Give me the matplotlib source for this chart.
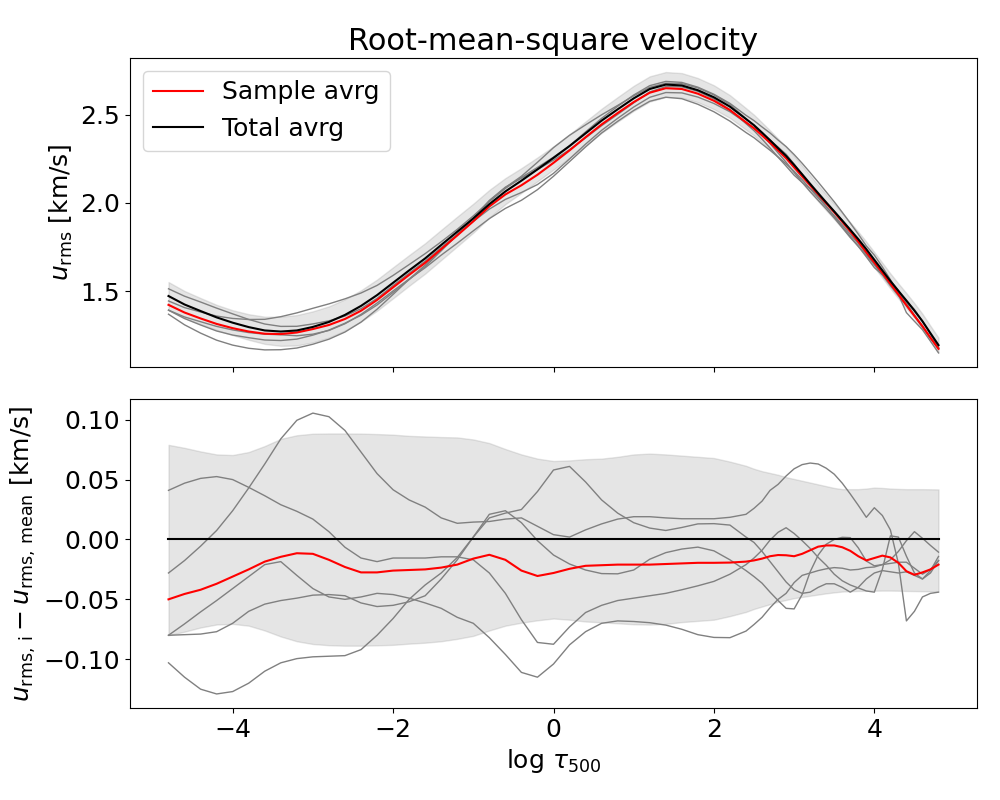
import numpy as np
import matplotlib
matplotlib.use("Agg")
import matplotlib.pyplot as plt

# ------ datos: log tau_500 y velocidades
log_tau = [-4.8, -4.6, -4.4, -4.2, -4.0, -3.8, -3.6, -3.4, -3.2, -3.0,
           -2.8, -2.6, -2.4, -2.2, -2.0, -1.8, -1.6, -1.4, -1.2, -1.0,
           -0.8, -0.6, -0.4, -0.2, 0.0, 0.2, 0.4, 0.6, 0.8, 1.0,
           1.2, 1.4, 1.6, 1.8, 2.0, 2.2, 2.4, 2.5, 2.6, 2.7,
           2.8, 2.9, 3.0, 3.1, 3.2, 3.3, 3.4, 3.5, 3.6, 3.7,
           3.8, 3.9, 4.0, 4.1, 4.2, 4.3, 4.4, 4.5, 4.6, 4.7, 4.8]

# promedio total [km/s]
u_total = [1.473, 1.425, 1.388, 1.352, 1.322, 1.297, 1.278, 1.272, 1.278, 1.298,
           1.326, 1.366, 1.417, 1.478, 1.548, 1.618, 1.686, 1.762, 1.837, 1.912,
           1.993, 2.065, 2.126, 2.190, 2.255, 2.322, 2.394, 2.466, 2.530, 2.592,
           2.645, 2.670, 2.665, 2.638, 2.598, 2.545, 2.475, 2.440, 2.398, 2.355,
           2.310, 2.266, 2.215, 2.162, 2.108, 2.055, 2.003, 1.952, 1.900, 1.848,
           1.795, 1.738, 1.678, 1.618, 1.558, 1.502, 1.447, 1.390, 1.330, 1.262, 1.195]

# diferencias respecto al promedio total, en 1e-3 km/s
du_sample = [-50, -45.5, -42, -37, -31, -25, -18.5, -14.5, -11.5, -12,
             -17, -23, -27.5, -27.5, -26, -25.5, -25, -23.5, -21, -16,
             -12.8, -17, -26, -30.5, -28, -24.5, -22, -21.5, -21, -21,
             -21, -20.5, -20, -19.5, -19.5, -19.3, -18.5, -17.5, -16, -14,
             -13, -13.2, -14, -12, -9, -6, -5, -5, -6.5, -9.5,
             -14, -17.5, -15.5, -13.5, -15, -19.5, -26.5, -29.5, -27.5, -25, -21]

du_a = [41, 47, 51, 52.5, 50, 43.5, 36.5, 29, 23.5, 17,
        6.5, -6.5, -15.5, -18.5, -15.5, -15.5, -15.5, -14.5, -14.5, -17,
        -28, -45, -67, -86, -87.5, -73, -61, -55, -51, -49,
        -47, -45, -42, -38.7, -35, -29, -21, -15.5, -9, -0.5,
        6, 9.8, 5, -1, -7.5, -15, -21.5, -29, -34.5, -38,
        -40.5, -43, -44, -25, 3, 2, -14, -28, -33, -28, -17.6]

du_b = [-28, -17.6, -5.6, 7.5, 24, 43, 63, 84, 99.5, 105.5,
        102.5, 91, 73, 55, 41.5, 33, 27, 18, 13.5, 14.5,
        15, 17, 18, 11, 4, 2, 8, 13, 17, 19,
        19, 18, 17.3, 17.3, 17.3, 18.5, 21, 26, 32, 41,
        46, 53, 59, 62.5, 63.8, 63, 59.5, 54.5, 47, 38,
        28.5, 18.5, 26.5, 20, 8, -20, -68, -60, -48, -45, -44]

du_c = [-80, -70.5, -60.5, -51, -41, -31, -21, -18.5, -30, -41,
        -48, -50, -48, -45, -46, -49, -53, -57.5, -65, -70,
        -82, -96, -111, -115, -104, -88, -77, -70, -68, -68.5,
        -69.5, -71.5, -75, -79.5, -81.8, -82, -76.5, -71, -65, -57,
        -50, -45, -36, -30, -28, -26, -24.5, -23.5, -24, -25.5,
        -25, -23.5, -23, -21, -20, -19, -19, -24, -29, -25, -17.6]

du_d = [-80, -79.5, -79, -77, -70, -60, -54, -51, -49, -46.5,
        -46, -47, -53, -56, -55, -52, -47, -33, -17, 2,
        21, 24, 14, -1, -13, -20.5, -25.5, -28.5, -28.7, -25.5,
        -16.5, -11, -8, -6.4, -9.5, -17, -26, -31, -36.5, -44,
        -51, -57.5, -58, -46, -27, -13, -4, 0, 1.8, 1.5,
        -7, -18, -22, -21, -17, -10, -1, 6.5, 1, -5, -10.6]

du_e = [-103, -115, -125, -129, -127, -120, -110, -103, -99.5, -98,
        -97.5, -97, -92, -80, -66, -50, -38, -28, -15, 2,
        18, 22, 25, 40, 58, 61, 48, 33, 22, 14,
        9.5, 7.5, 10, 13, 13.2, 12, 2, -2.5, -10, -18.5,
        -27, -35.5, -42, -45, -44, -40, -37, -37, -40, -44,
        -40, -33, -28, -26, -27, -28, -27, -30, -33, -26, -14.2]

# banda de dispersion, en 1e-3 km/s
band_hi = [79, 76.5, 73.5, 71, 70.5, 73, 78, 84, 87, 88.3,
           88.5, 88.5, 88.4, 88, 87.5, 86.5, 86, 85.5, 85.2, 83.5,
           80.5, 75.5, 71, 67.5, 65.5, 66, 67, 67.5, 69, 71,
           71.7, 71, 70, 69, 68, 65, 61.5, 59, 57, 55.5,
           54, 52, 50.5, 49, 47.5, 46, 44.5, 43, 42, 42,
           42, 42.5, 43.3, 43, 42.5, 42.2, 42, 42, 42, 41.9, 41.8]

band_lo = [-80, -77, -73.5, -71, -70.5, -72, -76, -81, -85, -87.3,
           -88.3, -88.7, -88.7, -88.4, -88, -87, -86.2, -85, -83, -80.5,
           -76, -72, -69.5, -67.5, -66, -67, -68.5, -69.2, -70, -70.8,
           -71.1, -70.5, -69, -68, -67, -64, -60.5, -58, -56, -54,
           -52, -50.5, -49, -48, -47, -46, -45, -44.2, -43.5, -43.2,
           -43, -42.9, -42.8, -42.7, -42.7, -42.8, -43, -43.1, -43.2, -43.3, -43.3]

#------ pasamos a km/s
x = np.array(log_tau)
u_tot = np.array(u_total)
d_sample = np.array(du_sample) * 1e-3
d_lines = [np.array(d) * 1e-3 for d in (du_a, du_b, du_c, du_d, du_e)]
d_hi = np.array(band_hi) * 1e-3
d_lo = np.array(band_lo) * 1e-3

#------ Graficas
fig, (ax0, ax1) = plt.subplots(2, 1, figsize=(10, 8), sharex=True)
fig.subplots_adjust(left=0.13, right=0.977, top=0.9275, bottom=0.115, hspace=0.104)

# panel de arriba: u_rms
ax0.fill_between(x, u_tot + d_lo, u_tot + d_hi, color='gray', alpha=0.2)
for d in d_lines:
    ax0.plot(x, u_tot + d, color='gray', lw=1)
ax0.plot(x, u_tot + d_sample, color='red', lw=1.5, label='Sample avrg')
ax0.plot(x, u_tot, color='black', lw=1.5, label='Total avrg')
ax0.set_ylabel(r'$u_{\rm rms}$ [km/s]', fontsize=18)
ax0.set_title('Root-mean-square velocity', fontsize=22)
ax0.legend(loc='upper left', fontsize=18)
ax0.tick_params(labelsize=18)

# panel de abajo: diferencias con el promedio total
ax1.fill_between(x, d_lo, d_hi, color='gray', alpha=0.2)
for d in d_lines:
    ax1.plot(x, d, color='gray', lw=1)
ax1.plot(x, np.zeros_like(x), color='black', lw=1.5)
ax1.plot(x, d_sample, color='red', lw=1.5)
ax1.set_ylabel(r'$u_{\rm rms,\,i} - u_{\rm rms,\,mean}$ [km/s]', fontsize=18)
ax1.set_xlabel(r'$\log\,\tau_{500}$', fontsize=18)
ax1.tick_params(labelsize=18)

fig.savefig('out.png', dpi=100)
